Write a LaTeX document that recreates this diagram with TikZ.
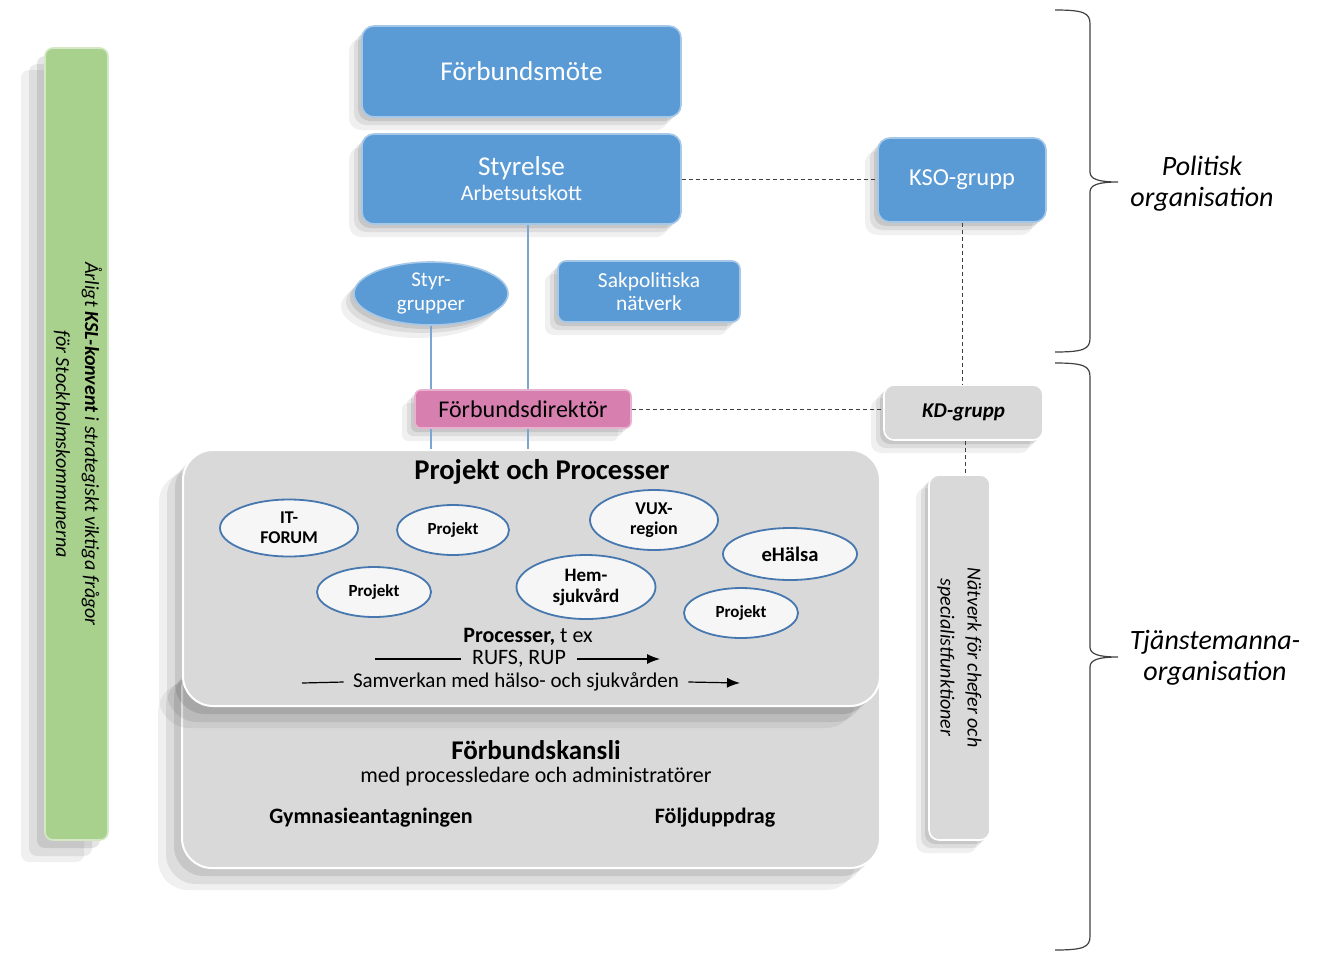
\documentclass[tikz,border=0pt]{standalone}
\usepackage{fontspec}
\setmainfont{Carlito}
\usepackage{tikz}
\usetikzlibrary{shapes.geometric}
\usetikzlibrary{shadows}
\usetikzlibrary{arrows.meta}
\definecolor{kslblue}{RGB}{91,155,213}
\definecolor{kslpink}{RGB}{215,127,175}
\definecolor{kslgreen}{RGB}{169,209,142}
\definecolor{kslgray}{RGB}{217,217,217}
\definecolor{kslline}{RGB}{125,165,210}
\definecolor{ksledge}{RGB}{70,120,175}
\tikzset{
    softshadow/.style={
        drop shadow={shadow xshift=-2pt, shadow yshift=-2pt, opacity=0.10, fill=black},
        drop shadow={shadow xshift=-4pt, shadow yshift=-4pt, opacity=0.08, fill=black},
        drop shadow={shadow xshift=-6.5pt, shadow yshift=-6.5pt, opacity=0.06, fill=black}
    },
    bigshadow/.style={
        drop shadow={shadow xshift=-4pt, shadow yshift=-4pt, opacity=0.10, fill=black},
        drop shadow={shadow xshift=-8pt, shadow yshift=-8pt, opacity=0.08, fill=black},
        drop shadow={shadow xshift=-12pt, shadow yshift=-11pt, opacity=0.06, fill=black}
    },
    bluebox/.style={rectangle, rounded corners=6pt, fill=kslblue, draw=kslblue!55!white,
        line width=0.8pt, text=white, align=center, softshadow},
    pinkbox/.style={rectangle, rounded corners=3pt, fill=kslpink, draw=kslpink!60!white,
        line width=0.8pt, align=center, softshadow},
    graybox/.style={rectangle, rounded corners=5pt, fill=kslgray, draw=white,
        line width=0.8pt, align=center, softshadow},
    greenbar/.style={rectangle, rounded corners=4pt, fill=kslgreen, draw=kslgreen!50!white,
        line width=0.8pt, bigshadow},
    bigbox/.style={rectangle, rounded corners=15pt, fill=kslgray, draw=white,
        line width=1pt, bigshadow},
    projekt/.style={ellipse, draw=ksledge, fill=gray!7, line width=0.9pt, inner sep=0pt,
        align=center, font=\bfseries\fontsize{9}{10}\selectfont},
    orgline/.style={kslline, line width=0.6pt},
    dotline/.style={black!75, line width=0.45pt, dash pattern=on 2pt off 1.5pt},
    procline/.style={line width=0.6pt},
    procarrow/.style={line width=0.6pt, -{Latex[length=6.5pt, width=5pt]}},
    bracestyle/.style={black!75, line width=0.6pt},
    orglabel/.style={align=center, font=\itshape\fontsize{14}{15.5}\selectfont}
}
\newcommand{\orgbrace}[3] {
	\draw[bracestyle] (1055,#1) .. controls (1084,#1) and (1090,#1+3) .. (1090,#1+14)
		-- (1090,#2-10) .. controls (1090,#2-3) and (1098,#2) .. (1118,#2)
		.. controls (1098,#2) and (1090,#2+3) .. (1090,#2+10)
		-- (1090,#3-14) .. controls (1090,#3-3) and (1084,#3) .. (1055,#3);
}

\begin{document}
\begin{tikzpicture}[x=0.5pt,y=-0.5pt]
		\useasboundingbox (0,0) rectangle (1320,953);

		% konvent bar
		\node[greenbar, minimum width=31.5pt, minimum height=396pt] (konvent) at (76.5,444) {};
		\node[rotate=-90, align=center, font=\itshape\fontsize{10}{14.5}\selectfont] (konventtext) at (78,444)
			{Årligt \textbf{KSL-konvent} i strategiskt viktiga frågor\\för Stockholmskommunerna};

		% politisk side
		\node[bluebox, minimum width=159.5pt, minimum height=45.5pt, font=\fontsize{13.6}{16}\selectfont] (mote) at (521.5,71.5) {Förbundsmöte};
		\node[bluebox, minimum width=159.5pt, minimum height=45pt] (styrelse) at (521.5,179)
			{{\fontsize{13.6}{16}\selectfont Styrelse}\\[0.5pt]{\fontsize{11}{13}\selectfont Arbetsutskott}};
		\node[bluebox, minimum width=84pt, minimum height=42pt, font=\fontsize{12.2}{14}\selectfont] (kso) at (962,180) {KSO-grupp};
		\node[bluebox, ellipse, minimum width=77pt, minimum height=31.5pt, inner sep=0pt, font=\fontsize{10.5}{12}\selectfont] (styr) at (431,293.5) {Styr-\\grupper};
		\node[bluebox, rounded corners=4pt, minimum width=91pt, minimum height=30.5pt, font=\fontsize{10.7}{11.5}\selectfont] (sak) at (649,291.5) {Sakpolitiska\\nätverk};

		% tjanstemanna side
		\node[pinkbox, minimum width=108pt, minimum height=19pt, font=\fontsize{12}{14}\selectfont] (direktor) at (523,409) {Förbundsdirektör};
		\node[graybox, minimum width=79.5pt, minimum height=27.5pt, font=\bfseries\itshape\fontsize{10.5}{12}\selectfont] (kd) at (963.5,412.5) {KD-grupp};
		\node[graybox, minimum width=30.5pt, minimum height=182.5pt] (natverk) at (959.5,657.5) {};
		\node[rotate=-90, align=center, font=\itshape\fontsize{10}{13.5}\selectfont] (natverktext) at (natverk.center)
			{Nätverk för chefer och\\specialistfunktioner};

		% kansli and projekt
		\node[bigbox, minimum width=349pt, minimum height=104pt] (kansli) at (531,764) {};
		\node[bigbox, minimum width=348.5pt, minimum height=128pt] (projbox) at (531.5,578) {};
		\node[font=\bfseries\fontsize{14.3}{16}\selectfont] (projtitle) at (542,472) {Projekt och Processer};

		\node[projekt, minimum width=69pt, minimum height=28.5pt] (itforum) at (289,528) {IT-\\FORUM};
		\node[projekt, minimum width=56pt, minimum height=25pt, font=\bfseries\fontsize{8.5}{10}\selectfont] (proja) at (453,530) {Projekt};
		\node[projekt, minimum width=64pt, minimum height=30pt] (vux) at (654,520) {VUX-\\region};
		\node[projekt, minimum width=67pt, minimum height=26pt, font=\bfseries\fontsize{10.3}{12}\selectfont] (ehalsa) at (790,554) {eHälsa};
		\node[projekt, minimum width=57pt, minimum height=25pt, font=\bfseries\fontsize{8.5}{10}\selectfont] (projb) at (374,592) {Projekt};
		\node[projekt, minimum width=69.5pt, minimum height=32pt, font=\bfseries\fontsize{9.5}{10.5}\selectfont] (hem) at (586,587) {Hem-\\sjukvård};
		\node[projekt, minimum width=57pt, minimum height=25pt, font=\bfseries\fontsize{8.5}{10}\selectfont] (projc) at (741,613) {Projekt};

		\node[font=\fontsize{11}{13}\selectfont] (processer) at (528,637) {\textbf{Processer,} t ex};
		\node[font=\fontsize{11}{13}\selectfont, inner sep=5.5pt] (rufs) at (519,659) {RUFS, RUP};
		\node[font=\fontsize{10.5}{12}\selectfont, inner sep=4.5pt] (samverkan) at (516,682) {Samverkan med hälso- och sjukvården};
		\coordinate (rufsstart) at (375,659);
		\coordinate (rufsend) at (660,659);
		\coordinate (samstart) at (302,683);
		\coordinate (samend) at (740,683);
		\draw[procline] (rufsstart) -- (rufs.west);
		\draw[procarrow] (rufs.east) -- (rufsend);
		\draw[procline] (samstart) -- (samverkan.west);
		\draw[procarrow] (samverkan.east) -- (samend);

		\node[font=\bfseries\fontsize{13.5}{16}\selectfont] (kanslititle) at (536,750) {Förbundskansli};
		\node[font=\fontsize{11}{13}\selectfont] (kanslisub) at (536,777) {med processledare och administratörer};
		\node[font=\bfseries\fontsize{11}{13}\selectfont] (gymn) at (371,818) {Gymnasieantagningen};
		\node[font=\bfseries\fontsize{11}{13}\selectfont] (foljd) at (715,818) {Följduppdrag};

		% connectors
		\draw[orgline] ([xshift=3.25pt]styrelse.south) -- ([xshift=3.25pt]styrelse.south |- direktor.north);
		\draw[orgline] ([xshift=3.25pt]styrelse.south |- direktor.south) -- ([xshift=3.25pt]styrelse.south |- projbox.north);
		\draw[orgline] (styr.south) -- (styr.south |- direktor.north);
		\draw[orgline] (styr.south |- direktor.south) -- (styr.south |- projbox.north);
		\draw[dotline] (styrelse.east) -- (styrelse.east -| kso.west);
		\draw[dotline] (direktor.east) -- (direktor.east -| kd.west);
		\draw[dotline] (kso.south) -- (kso.south |- kd.north);
		\draw[dotline] ([xshift=1pt]kd.south) -- ([xshift=1pt]kd.south |- natverk.north);

		% braces
		\orgbrace{10}{182}{352}
		\orgbrace{363}{657}{950}
		\node[orglabel] (politisk) at (1202,184) {Politisk\\organisation};
		\node[orglabel] (tjanste) at (1215,658) {Tjänstemanna-\\organisation};

	\end{tikzpicture}
\end{document}
